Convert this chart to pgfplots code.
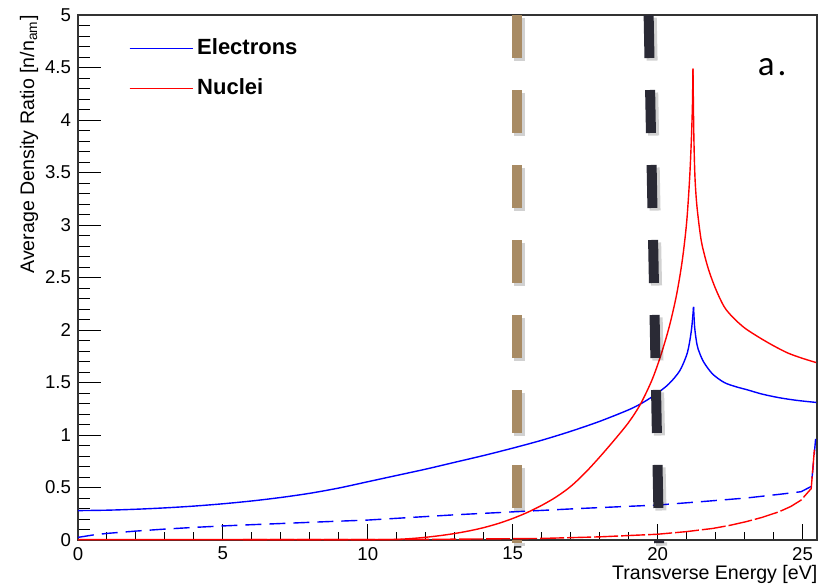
\documentclass[border=0pt]{standalone}
\usepackage{pgfplots}
\pgfplotsset{compat=1.18}
\usepackage{fontspec}
\setmainfont{Liberation Sans}
\newfontfamily\carlito{Carlito}
\definecolor{tanline}{RGB}{168,139,100}
\definecolor{darkline}{RGB}{42,42,53}
\begin{document}
\begin{tikzpicture}
\useasboundingbox (-39pt,-22.5pt) rectangle (378.5pt,270pt);
\begin{axis}[
  scale only axis, width=369.5pt, height=262.5pt,
  xmin=0, xmax=25.5, ymin=0, ymax=5,
  clip=false,
  xtick={0,5,10,15,20,25}, ytick={0,0.5,1,1.5,2,2.5,3,3.5,4,4.5,5},
  minor x tick num=4, minor y tick num=4,
  tick align=inside, xtick pos=bottom, ytick pos=left,
  xtick style={/pgfplots/major tick length=8pt,/pgfplots/minor tick length=4pt, black, line width=0.5pt},
  ytick style={/pgfplots/major tick length=11.3pt,/pgfplots/minor tick length=6pt, black, line width=0.5pt},
  axis line style={black!80, line width=0.6pt},
  /pgf/number format/assume math mode=true,
  tick label style={font=\fontsize{9.3}{11}\selectfont},
  xlabel={Transverse Energy [eV]},
  xlabel style={at={(axis description cs:1.001,-0.0743)}, anchor=base east, inner sep=0pt, font=\fontsize{9.8}{12}\selectfont},
  ylabel={Average Density Ratio [n/n\textsubscript{am}]},
  ylabel style={at={(axis description cs:-0.0595,1)}, anchor=base east, inner sep=0pt, font=\fontsize{9.8}{12}\selectfont},
  legend style={at={(axis cs:1.74,4.815)}, anchor=north west, draw=none, fill=none,
    font=\bfseries\fontsize{11}{13}\selectfont, row sep=6.5pt, inner sep=0pt},
  legend cell align=left,
  legend image code/.code={\draw[#1] (0pt,0pt) -- (27.5pt,0pt); \path (0pt,0pt) -- (31.5pt,0pt);},
]
% Electrons solid
\addplot[blue, line width=0.7pt, smooth] coordinates {
(0,0.280) (1,0.284) (2,0.293) (3,0.306) (4,0.323) (5,0.345) (6,0.372) (7,0.405)
(8,0.445) (9,0.495) (10,0.555) (11,0.615) (12,0.675) (13,0.74) (14,0.805) (15,0.875)
(16,0.95) (17,1.035) (18,1.13) (19,1.24) (19.5,1.31) (20,1.40) (20.4,1.49)
(20.76,1.61) (21.0,1.76) (21.1,1.88) (21.18,2.03) (21.24,2.22)
};
\addlegendentry{Electrons}
\addplot[blue, line width=0.7pt, smooth, forget plot] coordinates {
(21.24,2.22) (21.28,2.02) (21.36,1.86) (21.45,1.78) (21.6,1.69) (21.9,1.58)
(22.3,1.50) (22.7,1.46) (23.1,1.43) (23.6,1.39) (24.2,1.355) (24.8,1.33) (25.48,1.31)
};
% Nuclei solid
\addplot[red, line width=0.7pt, smooth] coordinates {
(0,0.003) (10,0.003) (10.5,0.004) (11,0.006) (11.5,0.014) (12,0.026) (12.5,0.042) (13,0.062)
(13.5,0.087) (14,0.118) (14.5,0.157) (15,0.205) (15.5,0.262) (16,0.33) (16.5,0.41)
(17,0.51) (17.5,0.64) (18,0.79) (18.5,0.95) (19,1.12) (19.4,1.29) (19.8,1.52)
(20.1,1.75) (20.4,2.03) (20.65,2.33) (20.85,2.66) (21.0,3.02) (21.1,3.42)
(21.16,3.78) (21.2,4.12) (21.22,4.49)
};
\addlegendentry{Nuclei}
\addplot[red, line width=0.7pt, smooth, forget plot] coordinates {
(21.22,4.49) (21.25,3.85) (21.29,3.45) (21.36,3.17) (21.5,2.86) (21.65,2.68) (21.8,2.54)
(22.02,2.38) (22.3,2.22) (22.6,2.12) (23.0,2.02) (23.5,1.93) (24.0,1.85) (24.5,1.78)
(25.0,1.73) (25.47,1.69)
};
% Electrons dashed
\addplot[blue, line width=0.7pt, dash pattern=on 8pt off 4pt, forget plot] coordinates {
(0,0.025) (0.5,0.047) (1,0.063) (2,0.085) (3,0.104) (4,0.12) (5,0.134) (6,0.146) (7,0.157) (8.5,0.174) (10,0.19)
(11.5,0.215) (13,0.24) (15,0.268) (17.3,0.30) (20,0.333) (21.5,0.365) (23.06,0.40) (24.2,0.435) (24.95,0.46) (25.3,0.51)
(25.4,0.8) (25.47,1.02)
};
% Nuclei dashed
\addplot[red, line width=0.7pt, dash pattern=on 12pt off 1.5pt, forget plot] coordinates {
(5.7,0.003) (10,0.004) (12,0.006) (14,0.01) (16,0.015) (18,0.03) (20,0.055) (21,0.08)
(21.9,0.11) (22.5,0.14) (23.06,0.175) (23.6,0.215) (24.2,0.27) (24.6,0.32) (24.95,0.38) (25.3,0.49) (25.41,0.86)
};
% annotation lines with shadow
\addplot[black, opacity=0.18, line width=5.5pt, dash pattern=on 21.5pt off 16pt, xshift=1.3pt, yshift=-1.3pt, forget plot] coordinates {(15.15,5) (15.15,-0.03)};
\addplot[tanline, line width=5pt, dash pattern=on 21.5pt off 16pt, forget plot] coordinates {(15.15,5) (15.15,-0.03)};
\addplot[black, opacity=0.18, line width=5.5pt, dash pattern=on 21.5pt off 16pt, xshift=1.3pt, yshift=-1.3pt, forget plot] coordinates {(19.69,5) (20.05,-0.03)};
\addplot[darkline, line width=5pt, dash pattern=on 21.5pt off 16pt, forget plot] coordinates {(19.69,5) (20.05,-0.03)};
\node[anchor=base west, inner sep=0pt, font=\carlito\fontsize{17.5}{20}\selectfont] at (axis cs:23.45,4.42) {a\kern1.5pt.};
\end{axis}
\end{tikzpicture}
\end{document}
